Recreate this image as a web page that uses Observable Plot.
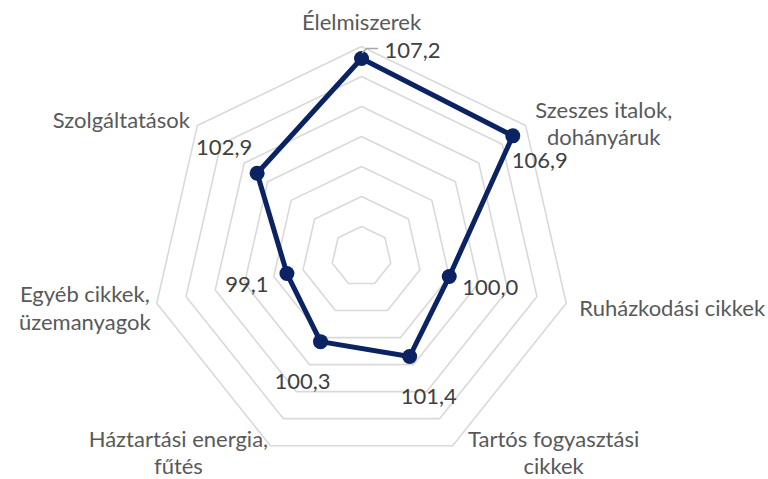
<!DOCTYPE html>
<html>
<head>
<meta charset="utf-8">
<script src="https://cdn.jsdelivr.net/npm/d3@7"></script>
<script src="https://cdn.jsdelivr.net/npm/@observablehq/plot@0.6"></script>
<style>
  html, body { margin: 0; padding: 0; background: #ffffff; }
  #chart svg { display: block; }
</style>
</head>
<body>
<div id="chart"></div>
<script>
// ---- data ----
const categories = [
  "Élelmiszerek",
  "Szeszes italok,\ndohányáruk",
  "Ruházkodási cikkek",
  "Tartós fogyasztási\ncikkek",
  "Háztartási energia,\nfűtés",
  "Egyéb cikkek,\nüzemanyagok",
  "Szolgáltatások"
];
const values = [107.2, 106.9, 100.0, 101.4, 100.3, 99.1, 102.9];
const ringTicks = [96, 98, 100, 102, 104, 106, 108];
const axisMin = 94;

// ---- layout (pixel offsets, not data) ----
const W = 768, H = 479, CX = 361, CY = 256, PX = 15; // px per unit
const catOffsets = [[0, -25], [78, -3], [106, 4], [101, 6], [-92, 6], [-72, 4], [-76, -6]];
const valOffsets = [[51, -8], [27, 25], [41, 11], [19, 40], [-18, 40], [-40, 11], [-33, -25]];

const n = categories.length;
const ang = i => i * 2 * Math.PI / n;
const proj = (v, i) => ({x: (v - axisMin) * Math.sin(ang(i)), y: (v - axisMin) * Math.cos(ang(i))});
const fmt = v => v.toFixed(1).replace(".", ",");

const rings = ringTicks.flatMap(t => d3.range(n + 1).map(k => ({ring: t, ...proj(t, k % n)})));
const series = d3.range(n + 1).map(k => ({...proj(values[k % n], k % n)}));
const pts = values.map((v, i) => ({i, v, ...proj(v, i)}));
const outer = ringTicks[ringTicks.length - 1];

const font = "Lato, 'Open Sans', sans-serif";
const marks = [
  Plot.line(rings, {x: "x", y: "y", z: "ring", stroke: "#d9d9d9", strokeWidth: 1.6}),
  Plot.line(series, {x: "x", y: "y", stroke: "#0b2263", strokeWidth: 5, strokeLinejoin: "round"}),
  Plot.dot(pts, {x: "x", y: "y", r: 7.5, fill: "#0b2263", stroke: "none"}),
  // leader line for first value label
  Plot.line([[1, -6], [5, -10], [16, -10]].map(([dx, dy]) => ({x: pts[0].x + dx / PX, y: pts[0].y - dy / PX})),
    {x: "x", y: "y", stroke: "#a6a6a6", strokeWidth: 1.5})
];
categories.forEach((c, i) => {
  const p = proj(outer, i);
  marks.push(Plot.text([c], {x: () => p.x, y: () => p.y, text: d => d, dx: catOffsets[i][0], dy: catOffsets[i][1],
    textAnchor: "middle", lineAnchor: "middle", lineHeight: 1.25, fontSize: 22, fill: "#595959", fontFamily: font}));
});
pts.forEach((p, i) => {
  marks.push(Plot.text([p], {x: "x", y: "y", text: d => fmt(d.v), dx: valOffsets[i][0], dy: valOffsets[i][1],
    textAnchor: "middle", lineAnchor: "middle", fontSize: 22, fill: "#404040", fontFamily: font}));
});

const chart = Plot.plot({
  width: W, height: H,
  marginTop: 0, marginBottom: 0, marginLeft: 0, marginRight: 0,
  x: {domain: [-CX / PX, (W - CX) / PX], range: [0, W], axis: null},
  y: {domain: [-(H - CY) / PX, CY / PX], range: [H, 0], axis: null},
  style: {background: "#ffffff", overflow: "visible"},
  marks
});
document.getElementById("chart").append(chart);
</script>
</body>
</html>
